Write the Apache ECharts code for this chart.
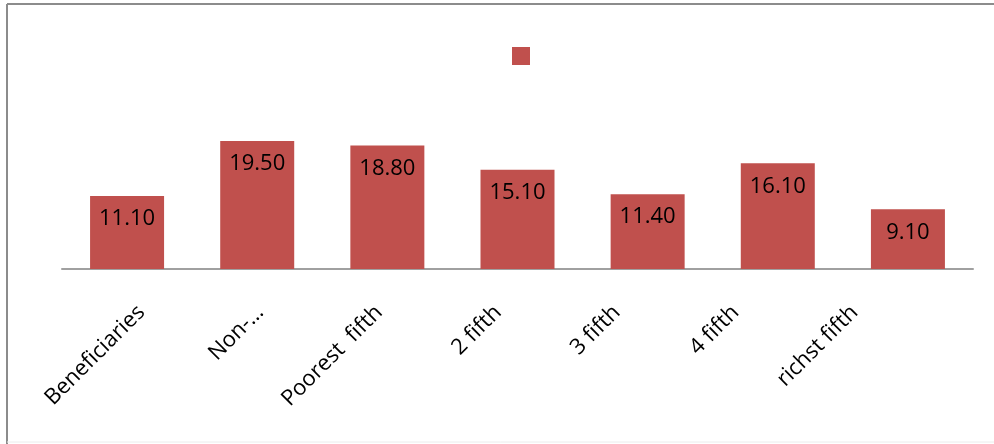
<!DOCTYPE html>
<html>
<head>
<meta charset="utf-8">
<script src="https://cdn.jsdelivr.net/npm/echarts@6/dist/echarts.min.js"></script>
<style>
html,body{margin:0;padding:0;background:#fff;}
#chart{width:994px;height:444px;}
</style>
</head>
<body>
<div id="chart"></div>
<script>
var categories = ['Beneficiaries', 'Non-…', 'Poorest  fifth', '2 fifth', '3 fifth', '4 fifth', 'richst fifth'];
var values = [11.10, 19.50, 18.80, 15.10, 11.40, 16.10, 9.10];
var seriesName = ' ';

var chart = echarts.init(document.getElementById('chart'));
chart.setOption({
  animation: false,
  backgroundColor: '#ffffff',
  graphic: [
    { type: 'line', shape: { x1: 7, y1: 4, x2: 994, y2: 4 }, style: { stroke: '#8c8c8c', lineWidth: 2 } },
    { type: 'line', shape: { x1: 7, y1: 4, x2: 7, y2: 444 }, style: { stroke: '#8c8c8c', lineWidth: 2 } },
    { type: 'line', shape: { x1: 7, y1: 442, x2: 994, y2: 442 }, style: { stroke: '#ececec', lineWidth: 1 } }
  ],
  legend: {
    left: 512, top: 47, padding: 0,
    itemWidth: 18, itemHeight: 18, itemGap: 0,
    icon: 'rect',
    data: [seriesName],
    textStyle: { fontSize: 1 }
  },
  grid: [
    { left: 62, right: 21, top: 72, bottom: 175 },
    { left: 82, right: 80, top: 72, bottom: 175 }
  ],
  xAxis: [
    {
      type: 'category', gridIndex: 0, data: categories,
      axisLine: { lineStyle: { color: '#a0a0a0', width: 2 } },
      axisTick: { show: false },
      axisLabel: { show: false }
    },
    {
      type: 'category', gridIndex: 1, data: categories,
      axisLine: { show: false },
      axisTick: { show: false },
      axisLabel: {
        rotate: 45, margin: 40, interval: 0,
        fontFamily: 'Open Sans', fontSize: 22, color: '#000'
      }
    }
  ],
  yAxis: [
    { type: 'value', gridIndex: 0, min: 0, max: 30, show: false, splitLine: { show: false } },
    { type: 'value', gridIndex: 1, min: 0, max: 30, show: false, splitLine: { show: false } }
  ],
  series: [
    {
      name: seriesName,
      type: 'bar',
      xAxisIndex: 0, yAxisIndex: 0,
      data: values,
      barWidth: 74,
      itemStyle: { color: '#C0504D' },
      label: {
        show: true, position: 'insideTop', distance: 12,
        color: '#000', fontFamily: 'Open Sans', fontSize: 22,
        formatter: function (p) { return p.value.toFixed(2); }
      }
    }
  ]
});
</script>
</body>
</html>
